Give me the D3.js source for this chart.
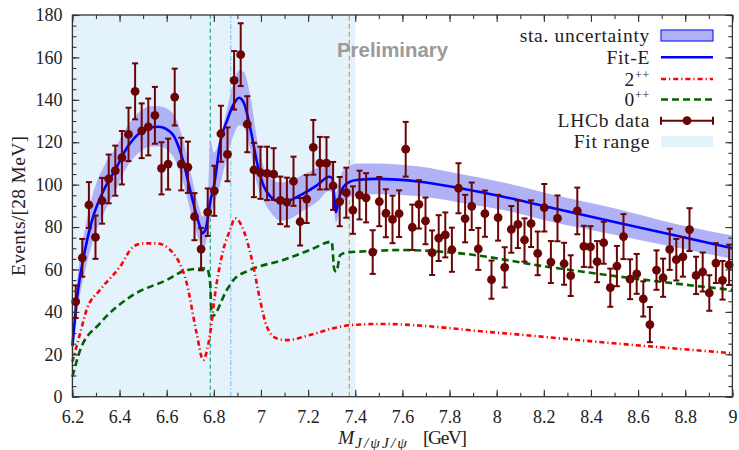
<!DOCTYPE html>
<html>
<head>
<meta charset="utf-8">
<script src="https://cdn.jsdelivr.net/npm/d3@7"></script>
<style>
  body { margin: 0; background: #fff; }
  svg { display: block; }
  .tick text { font-family: "Liberation Serif", serif; font-size: 18px; fill: #222; }
</style>
</head>
<body>
<svg id="chart" width="739" height="450"></svg>
<script>
// LHCb di-J/psi spectrum, 28 MeV bins starting at 6.2 GeV
const binLow = 6.2, binWidth = 0.028;
const counts = [44.8, 65.5, 90.4, 75.2, 92.4, 102.7, 106.6, 112.7, 123.7, 144.0,
  125.4, 127.2, 132.7, 107.7, 109.7, 141.3, 109.7, 108.2, 84.9, 69.6,
  87.0, 97.1, 124.0, 114.3, 149.2, 161.3, 128.5, 106.9, 105.6, 105.3,
  105.0, 92.6, 91.8, 101.6, 82.5, 93.2, 117.6, 110.1, 110.1, 99.4,
  92.0, 96.2, 88.0, 95.1, 93.8, 68.2, 92.0, 86.5, 83.6, 86.3,
  116.7, 79.9, 90.7, 82.9, 67.9, 74.8, 76.3, 69.3, 98.3, 84.0,
  89.8, 69.7, 86.3, 55.2, 84.4, 61.0, 78.9, 81.3, 73.9, 81.6,
  67.6, 89.1, 63.5, 84.1, 62.7, 57.1, 87.6, 70.9, 70.7, 63.7,
  72.6, 51.4, 61.6, 75.5, 55.4, 57.9, 46.1, 34.0, 59.7, 56.1,
  69.5, 64.6, 65.9, 78.8, 57.2, 58.8, 48.9, 63.0, 54.9, 62.2];
const errs = [7.7, 8.9, 10.8, 10.2, 10.8, 11.5, 11.8, 12.6, 12.6, 13.2,
  12.9, 13.4, 13.4, 12.3, 12.0, 13.4, 12.4, 12.1, 11.1, 10.0,
  11.2, 11.8, 13.2, 12.7, 13.8, 14.8, 13.2, 12.8, 12.3, 12.6,
  12.2, 11.2, 11.5, 11.6, 11.2, 11.3, 12.9, 12.4, 12.3, 11.3,
  11.6, 11.8, 11.2, 11.5, 11.6, 10.3, 11.6, 11.3, 11.2, 11.0,
  12.9, 10.7, 11.4, 11.0, 10.5, 10.8, 10.6, 10.4, 11.8, 11.2,
  11.2, 9.9, 10.9, 9.0, 10.8, 9.5, 11.0, 11.2, 10.2, 11.0,
  10.3, 11.2, 9.9, 10.8, 9.9, 9.6, 11.0, 9.7, 9.7, 9.7,
  9.9, 9.0, 9.5, 10.6, 9.4, 9.4, 8.3, 8.3, 9.3, 9.0,
  9.7, 9.8, 9.3, 10.1, 8.8, 9.2, 8.4, 9.4, 9.1, 9.5];

// Fit-E curve and its statistical band
const fitX = [6.200, 6.220, 6.255, 6.283, 6.340, 6.382, 6.424, 6.481, 6.530, 6.566,
  6.623, 6.665, 6.707, 6.736, 6.752, 6.765, 6.777, 6.785, 6.800, 6.829,
  6.857, 6.886, 6.907, 6.928, 6.956, 6.984, 7.013, 7.041, 7.084, 7.126,
  7.183, 7.239, 7.289, 7.303, 7.310, 7.318, 7.330, 7.350, 7.378, 7.406,
  7.490, 7.674, 7.845, 8.028, 8.213, 8.495, 8.778, 9.000];
const fitY = [24, 47, 70, 83, 99, 107, 116, 124, 127, 127.3,
  124, 113, 94, 82, 77, 79, 86, 92, 99, 121,
  130.5, 138.4, 141, 138.4, 126, 110, 99, 94.3, 92, 92.8,
  96, 99.8, 103.7, 103, 95, 87, 93, 99, 101.4, 102.2,
  102.7, 101.4, 98.3, 94.3, 89.6, 82.5, 75.5, 70];
const bandLo = [17, 39, 60, 72, 88, 97, 107, 115, 118, 118,
  114, 103, 85, 74, 70, 72, 78, 84, 90, 101,
  114, 124, 128, 127, 116, 100, 92, 87, 83, 84,
  88, 92, 97, 96, 88, 82, 86, 92, 94, 95,
  95.5, 94.5, 91.5, 88, 83, 76.5, 70, 65];
const bandHi = [31, 55, 80, 94, 110, 117, 126, 134, 137, 137,
  134, 123, 103, 90, 85, 88, 100, 121, 115, 123,
  136, 149, 154, 153, 141, 121, 108, 103, 101, 102,
  105, 108, 111, 111, 104, 96, 101, 107, 109, 110,
  110, 108.5, 105, 101, 96, 89, 81, 76];

// 2++ component
const t2X = [6.200, 6.233, 6.260, 6.317, 6.402, 6.458, 6.501, 6.558, 6.628, 6.685,
  6.727, 6.755, 6.777, 6.812, 6.840, 6.869, 6.890, 6.940, 6.968, 6.996,
  7.025, 7.067, 7.110, 7.208, 7.307, 7.385, 7.505, 8.000, 8.495, 9.000];
const t2Y = [16.5, 30, 40.9, 50.3, 61.3, 70.7, 72.3, 72.3, 67.6, 53.5,
  30, 17.3, 25, 53.5, 69.2, 78.6, 84.1, 73.9, 61.3, 45.6,
  33, 27.5, 26.7, 29.1, 32.3, 33.8, 34.3, 30.2, 25.2, 20.5];

// 0++ component
const t0X = [6.200, 6.233, 6.317, 6.458, 6.600, 6.685, 6.770, 6.784, 6.791, 6.855,
  6.883, 6.953, 7.095, 7.208, 7.300, 7.311, 7.320, 7.336, 7.364, 7.477,
  7.590, 7.845, 8.213, 8.637, 9.000];
const t0Y = [9.4, 22, 34.6, 48, 55, 59.7, 60.5, 54.2, 37.7, 50.3,
  55, 59.7, 64.5, 69.2, 73.1, 60, 59, 66.8, 68, 68.7,
  69.2, 67.6, 61.3, 55, 50.3];

const fitRange = [6.2, 7.4];
const thresholds = [6.785, 6.872, 7.375];
const xTicks = [6.2, 6.4, 6.6, 6.8, 7, 7.2, 7.4, 7.6, 7.8, 8, 8.2, 8.4, 8.6, 8.8, 9];
const yTicks = [0, 20, 40, 60, 80, 100, 120, 140, 160, 180];
const legendLabels = ["sta. uncertainty", "Fit-E", "2++", "0++", "LHCb data", "Fit range"];

const width = 739, height = 450;
const margin = {top: 15, right: 6.6, bottom: 53.3, left: 72.4};

const svg = d3.select("#chart");

const x = d3.scaleLinear()
    .domain([6.2, 9])
    .range([margin.left, width - margin.right]);
const y = d3.scaleLinear()
    .domain([0, 180])
    .range([height - margin.bottom, margin.top]);

const serif = "Liberation Serif";
const dataColor = "#6b0505";
const bandColor = "#b1b1f6";
const rangeColor = "#e3f2fb";

// fit range shading
svg.append("rect")
    .attr("x", x(fitRange[0]))
    .attr("y", y(180))
    .attr("width", x(fitRange[1]) - x(fitRange[0]))
    .attr("height", y(0) - y(180))
    .attr("fill", rangeColor);

// threshold lines
const thrStyle = [
  {color: "#1fae8c", dash: "4,3"},
  {color: "#8ccbef", dash: "5,2,1.5,2"},
  {color: "#dca23c", dash: "5,3"}
];
svg.append("g").selectAll("line")
  .data(thresholds)
  .join("line")
    .attr("x1", d => x(d)).attr("x2", d => x(d))
    .attr("y1", y(0)).attr("y2", y(180))
    .attr("stroke", (d, i) => thrStyle[i].color)
    .attr("stroke-width", 1.3)
    .attr("stroke-dasharray", (d, i) => thrStyle[i].dash);

// statistical band
const band = d3.area()
    .x(d => x(d[0]))
    .y0(d => y(d[1]))
    .y1(d => y(d[2]))
    .curve(d3.curveMonotoneX);
svg.append("path")
    .datum(d3.zip(fitX, bandLo, bandHi))
    .attr("d", band)
    .attr("fill", bandColor);

const line = d3.line()
    .x(d => x(d[0]))
    .y(d => y(d[1]))
    .curve(d3.curveMonotoneX);

svg.append("path")
    .datum(d3.zip(t0X, t0Y))
    .attr("d", line)
    .attr("fill", "none")
    .attr("stroke", "#006400")
    .attr("stroke-width", 2.6)
    .attr("stroke-dasharray", "7,4");

svg.append("path")
    .datum(d3.zip(t2X, t2Y))
    .attr("d", line)
    .attr("fill", "none")
    .attr("stroke", "#ff0000")
    .attr("stroke-width", 2.6)
    .attr("stroke-dasharray", "5,3,1.2,3");

svg.append("path")
    .datum(d3.zip(fitX, fitY))
    .attr("d", line)
    .attr("fill", "none")
    .attr("stroke", "#0000ff")
    .attr("stroke-width", 2.6);

// data points with error bars
const pts = counts.map((c, i) => ({x: binLow + binWidth * (i + 0.5), y: c, e: errs[i]}));
const pg = svg.append("g")
  .selectAll("g")
  .data(pts)
  .join("g")
    .attr("stroke", dataColor)
    .attr("stroke-width", 2);
pg.append("line")
    .attr("x1", d => x(d.x)).attr("x2", d => x(d.x))
    .attr("y1", d => y(d.y - d.e)).attr("y2", d => y(d.y + d.e));
pg.append("line")
    .attr("x1", d => x(d.x) - 3).attr("x2", d => x(d.x) + 3)
    .attr("y1", d => y(d.y + d.e)).attr("y2", d => y(d.y + d.e));
pg.append("line")
    .attr("x1", d => x(d.x) - 3).attr("x2", d => x(d.x) + 3)
    .attr("y1", d => y(d.y - d.e)).attr("y2", d => y(d.y - d.e));
pg.append("circle")
    .attr("cx", d => x(d.x))
    .attr("cy", d => y(d.y))
    .attr("r", 4.4)
    .attr("stroke", "none")
    .attr("fill", dataColor);

// watermark
svg.append("text")
    .attr("x", 337)
    .attr("y", 57.3)
    .attr("font-family", "Liberation Sans, Arial, sans-serif")
    .attr("font-weight", "bold")
    .attr("font-size", 20.4)
    .attr("fill", "#9a9a9a")
    .text("Preliminary");

// axes, ticks pointing inward on all four sides
const xMinor = d3.range(62, 91).map(d => d / 10);
const yMinor = d3.range(0, 181, 5);
function styleAxis(g) {
  g.select(".domain").remove();
  g.selectAll(".tick line").attr("stroke", "#333").attr("stroke-width", 1.1);
}
svg.append("g")
    .attr("transform", `translate(0,${y(0)})`)
    .call(d3.axisBottom(x).tickValues(xMinor).tickSize(-4).tickFormat(""))
    .call(styleAxis);
svg.append("g")
    .attr("transform", `translate(0,${y(0)})`)
    .call(d3.axisBottom(x).tickValues(xTicks).tickSize(-7).tickPadding(14)
      .tickFormat(d => String(+d.toFixed(1))))
    .call(styleAxis);
svg.append("g")
    .attr("transform", `translate(0,${y(180)})`)
    .call(d3.axisTop(x).tickValues(xMinor).tickSize(-4).tickFormat(""))
    .call(styleAxis);
svg.append("g")
    .attr("transform", `translate(0,${y(180)})`)
    .call(d3.axisTop(x).tickValues(xTicks).tickSize(-7).tickFormat(""))
    .call(styleAxis);
svg.append("g")
    .attr("transform", `translate(${x(6.2)},0)`)
    .call(d3.axisLeft(y).tickValues(yMinor).tickSize(-4).tickFormat(""))
    .call(styleAxis);
svg.append("g")
    .attr("transform", `translate(${x(6.2)},0)`)
    .call(d3.axisLeft(y).tickValues(yTicks).tickSize(-7).tickPadding(10))
    .call(styleAxis);
svg.append("g")
    .attr("transform", `translate(${x(9)},0)`)
    .call(d3.axisRight(y).tickValues(yMinor).tickSize(-4).tickFormat(""))
    .call(styleAxis);
svg.append("g")
    .attr("transform", `translate(${x(9)},0)`)
    .call(d3.axisRight(y).tickValues(yTicks).tickSize(-7).tickFormat(""))
    .call(styleAxis);

svg.selectAll(".tick text").attr("font-family", serif).attr("font-size", 18).attr("fill", "#222");

svg.append("rect")
    .attr("x", x(6.2)).attr("y", y(180))
    .attr("width", x(9) - x(6.2)).attr("height", y(0) - y(180))
    .attr("fill", "none")
    .attr("stroke", "#333")
    .attr("stroke-width", 1.3);

// axis titles
const xt = svg.append("text")
    .attr("y", 444)
    .attr("font-family", serif)
    .attr("font-size", 19.5)
    .attr("fill", "#222");
xt.append("tspan").attr("x", 338).attr("font-style", "italic").text("M");
xt.append("tspan").attr("x", 355).attr("dy", 4).attr("font-style", "italic")
    .attr("font-size", 15.5).attr("textLength", 52).attr("lengthAdjust", "spacing").text("J/ψJ/ψ");
xt.append("tspan").attr("x", 423).attr("dy", -4).attr("textLength", 44).attr("lengthAdjust", "spacing").text("[GeV]");

svg.append("text")
    .attr("transform", `translate(25,${(y(0) + y(180)) / 2}) rotate(-90)`)
    .attr("text-anchor", "middle")
    .attr("font-family", serif)
    .attr("font-size", 19.5)
    .attr("letter-spacing", 0.3)
    .attr("fill", "#222")
    .text("Events/[28 MeV]");

// legend
const lg = svg.append("g")
    .attr("font-family", serif)
    .attr("font-size", 19.5)
    .attr("letter-spacing", 0.7)
    .attr("fill", "#222");
const rowY = [35.5, 57.3, 79, 99.5, 120.7, 141.8];
const sx0 = 661, sx1 = 713;
legendLabels.forEach((lab, i) => {
  const t = lg.append("text")
      .attr("x", 650)
      .attr("y", rowY[i] + 6.5)
      .attr("text-anchor", "end");
  if (lab.endsWith("++")) {
    t.append("tspan").text(lab.slice(0, -2));
    t.append("tspan").attr("font-size", 12).attr("dy", -7).text("++");
  } else {
    t.text(lab);
  }
});
lg.append("rect")
    .attr("x", sx0).attr("y", rowY[0] - 5.5).attr("width", sx1 - sx0).attr("height", 11)
    .attr("fill", bandColor).attr("stroke", "#2525ff").attr("stroke-width", 1.2);
lg.append("line")
    .attr("x1", sx0).attr("x2", sx1).attr("y1", rowY[1]).attr("y2", rowY[1])
    .attr("stroke", "#0000ff").attr("stroke-width", 2.6);
lg.append("line")
    .attr("x1", sx0).attr("x2", sx1).attr("y1", rowY[2]).attr("y2", rowY[2])
    .attr("stroke", "#ff0000").attr("stroke-width", 2.6).attr("stroke-dasharray", "5,3,1.2,3");
lg.append("line")
    .attr("x1", sx0).attr("x2", sx1).attr("y1", rowY[3]).attr("y2", rowY[3])
    .attr("stroke", "#006400").attr("stroke-width", 2.6).attr("stroke-dasharray", "7,4");
const dl = lg.append("g").attr("stroke", dataColor).attr("stroke-width", 2);
dl.append("line").attr("x1", sx0).attr("x2", sx1).attr("y1", rowY[4]).attr("y2", rowY[4]);
dl.append("line").attr("x1", sx0).attr("x2", sx0).attr("y1", rowY[4] - 4).attr("y2", rowY[4] + 4);
dl.append("line").attr("x1", sx1).attr("x2", sx1).attr("y1", rowY[4] - 4).attr("y2", rowY[4] + 4);
lg.append("circle").attr("cx", (sx0 + sx1) / 2).attr("cy", rowY[4]).attr("r", 4.4).attr("fill", dataColor);
lg.append("rect")
    .attr("x", sx0).attr("y", rowY[5] - 5.5).attr("width", sx1 - sx0).attr("height", 11)
    .attr("fill", rangeColor);
</script>
</body>
</html>
